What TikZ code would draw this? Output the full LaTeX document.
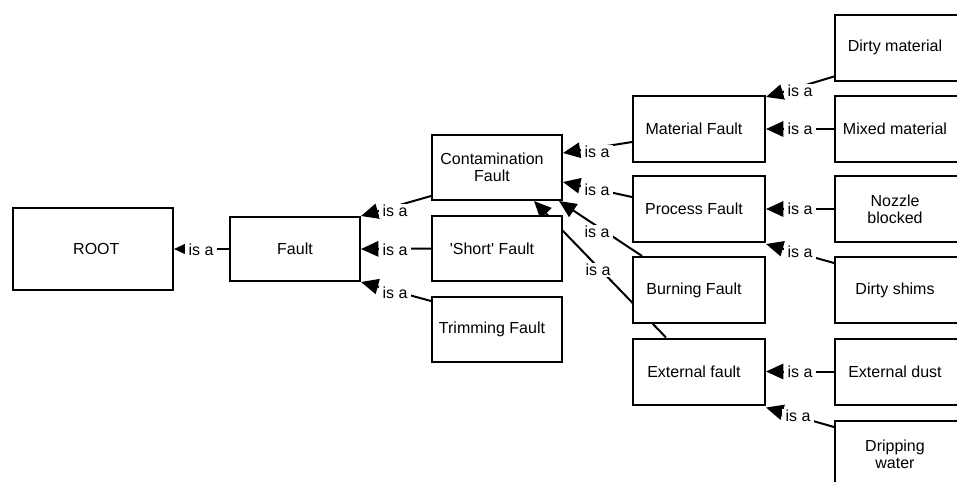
\documentclass[tikz,border=0pt]{standalone}
\usepackage{fontspec}
\setmainfont{Liberation Sans}
\usetikzlibrary{arrows.meta,calc,backgrounds}
\newcommand\lsh{\kern-7.5pt}
\begin{document}
\begin{tikzpicture}[x=0.75pt,y=-0.75pt,
  txt/.style={font=\fontsize{12}{12.75}\selectfont},
  box/.style={txt, draw, line width=1.5pt, fill=white, align=center, inner sep=0pt},
  rootbox/.style={box, minimum width=120pt, minimum height=61.5pt},
  faultbox/.style={box, minimum width=97.5pt, minimum height=48pt},
  colbox/.style={box, minimum width=97.5pt, minimum height=48.75pt},
  subbox/.style={box, minimum width=99pt, minimum height=49.5pt},
  isa/.style={line width=1.5pt, -{Triangle[length=13pt,width=11.5pt]}},
  isasmall/.style={line width=1.5pt, -{Triangle[length=9pt,width=8pt]}},
  lab/.style={txt, fill=white, inner xsep=3pt, inner ysep=1pt}]
\useasboundingbox (0,0) rectangle (957,482);
\clip (0,0) rectangle (957,482);

% boxes
\node[rootbox] (root) at (93,249) {\kern5pt ROOT};
\node[faultbox] (fault) at (295,249) {Fault};
\node[colbox] (contam) at (497,167.5) {\lsh Contamination\\\lsh Fault};
\node[colbox] (short) at (497,248.5) {\lsh\textquotesingle Short\textquotesingle{} Fault};
\node[colbox] (trim) at (497,329.5) {\lsh Trimming Fault};
\node[subbox] (material) at (699,129) {\lsh Material Fault};
\node[subbox] (process) at (699,209) {\lsh Process Fault};
\node[subbox] (burning) at (699,290) {\lsh Burning Fault};
\node[subbox] (external) at (699,371.5) {\lsh External fault};
\node[subbox] (dirtymat) at (901,47.5) {\kern-9pt Dirty material};
\node[subbox] (mixed) at (901,129) {\kern-9pt Mixed material};
\node[subbox] (nozzle) at (901,209) {\kern-9pt Nozzle\\\kern-9pt blocked};
\node[subbox] (shims) at (901,290) {\kern-9pt Dirty shims};
\node[subbox] (extdust) at (901,371.5) {\kern-9pt External dust};
\node[subbox] (drip) at (901,454) {\kern-9pt Dripping\\\kern-9pt water};

% connectors
\begin{pgfonlayer}{background}
\fill[white] (0,0) rectangle (957,482);
\draw[isasmall] (fault.west) -- (root.east);
\draw[isa] ($(contam.south west)+(0,-5)$) -- (fault.north east);
\draw[isa] (short.west) -- (fault.east);
\draw[isa] ($(trim.north west)+(0,5)$) -- (fault.south east);
\draw[isa] ($(material.west)+(0,13)$) -- ($(contam.east)+(0,-14.5)$);
\draw[isa] ($(process.west)+(0,-12)$) -- ($(contam.east)+(0,14.5)$);
\draw[isa] ($(burning.north west)+(10,0)$) -- ($(contam.south east)+(-4,0)$);
\draw[isa] ($(external.north)+(-33,0)$) -- ($(contam.south east)+(-29,0)$);
\draw[isa] ($(dirtymat.south west)+(0,-5)$) -- ($(material.north east)+(0,2)$);
\draw[isa] (mixed.west) -- (material.east);
\draw[isa] (nozzle.west) -- (process.east);
\draw[isa] ($(shims.north west)+(0,7)$) -- ($(process.south east)+(0,1)$);
\draw[isa] (extdust.west) -- (external.east);
\draw[isa] ($(drip.north west)+(0,7)$) -- ($(external.south east)+(0,2)$);
\end{pgfonlayer}

% labels
\node[lab] (l1) at (201,250) {is a};
\node[lab] (l2) at (395,211) {is a};
\node[lab] (l3) at (395,250) {is a};
\node[lab] (l4) at (395,293) {is a};
\node[lab] (l5) at (597,152) {is a};
\node[lab] (l6) at (597,190) {is a};
\node[lab] (l7) at (597,232) {is a};
\node[lab] (l8) at (598,270) {is a};
\node[lab] (l9) at (800,91) {is a};
\node[lab] (l10) at (800,129) {is a};
\node[lab] (l11) at (800,209) {is a};
\node[lab] (l12) at (800,252) {is a};
\node[lab] (l13) at (800,371.5) {is a};
\node[lab] (l14) at (798,416) {is a};
\end{tikzpicture}
\end{document}
